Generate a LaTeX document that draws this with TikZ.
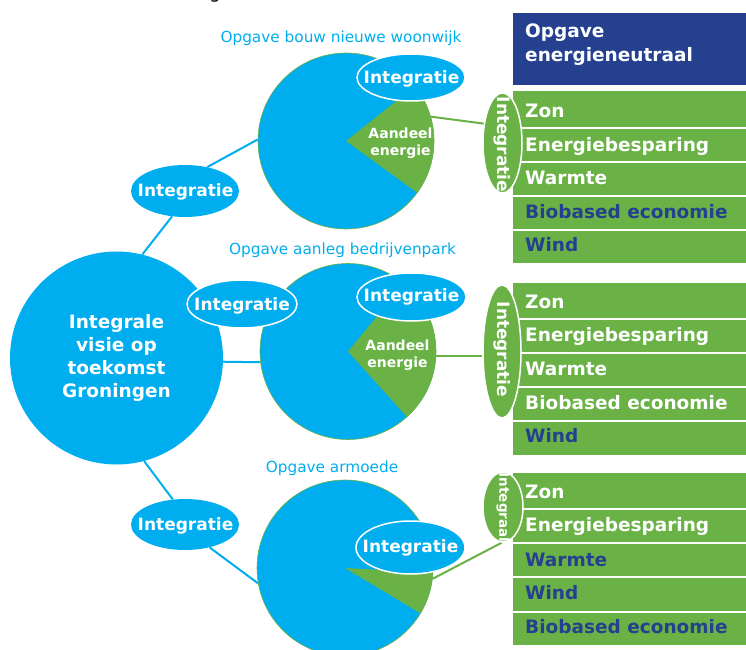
\documentclass[tikz,border=0pt]{standalone}
\usepackage{fontspec}
\setmainfont{DejaVu Sans}
\usetikzlibrary{shapes.geometric,backgrounds}
\definecolor{cblue}{RGB}{0,174,239}
\definecolor{cgreen}{RGB}{106,178,70}
\definecolor{cdark}{RGB}{36,64,143}
\begin{document}
\begin{tikzpicture}[x=1pt,y=1pt,
  bf/.style={font=\fontsize{#1}{#1}\selectfont\bfseries},
  pie/.style={circle,fill=cblue,draw=cgreen,line width=0.6pt,minimum size=176pt,inner sep=0pt},
  slice/.style={fill=cgreen},
  bell/.style={ellipse,fill=cblue,inner sep=0pt},
  wbell/.style={bell,draw=white,line width=1.5pt},
  vell/.style={ellipse,fill=cgreen,draw=white,line width=1.5pt,inner sep=0pt},
  etxt/.style={text=white,bf=17,inner sep=0pt,anchor=base},
  vtxt/.style={text=white,inner sep=0pt,rotate=-90},
  titletxt/.style={text=cblue,font=\fontsize{15.3}{15.3}\selectfont,inner sep=0pt,anchor=base},
  rowbox/.style={rectangle,fill=cgreen,inner sep=0pt,anchor=north west,minimum width=233pt},
  rtxt/.style={bf=18.5,inner sep=0pt,anchor=base west},
  wt/.style={rtxt,text=white},
  dt/.style={rtxt,text=cdark},
  bline/.style={draw=cblue,line width=2pt},
  gline/.style={draw=cgreen,line width=2pt}
]
\useasboundingbox (0,0) rectangle (746,649);

% cropped fragment at the top
\node[font=\fontsize{18}{18}\selectfont,anchor=base,inner sep=0pt] (frag) at (215,650) {g};

% pies
\node[pie] (p1) at (346,508) {};
\fill[slice] (p1.center) -- ++(-36:88) arc[start angle=-36,end angle=38.5,radius=88] -- cycle;
\node[pie] (p2) at (348,297.5) {};
\fill[slice] (p2.center) -- ++(-48:88) arc[start angle=-48,end angle=50.5,radius=88] -- cycle;
\node[pie] (p3) at (345,81) {};
\fill[slice] (p3.center) -- ++(-31:88) arc[start angle=-31,end angle=-3,radius=88] -- cycle;

% titles
\node[titletxt] (t1) at (341,606.7) {Opgave bouw nieuwe woonwijk};
\node[titletxt] (t2) at (342.5,394.7) {Opgave aanleg bedrijvenpark};
\node[titletxt] (t3) at (332,176.7) {Opgave armoede};

% aandeel energie
\node[text=white,font=\fontsize{14}{16.7}\selectfont\bfseries,align=center,inner sep=0pt] (ae1) at (400.5,506) {Aandeel\\energie};
\node[text=white,font=\fontsize{14}{16.7}\selectfont\bfseries,align=center,inner sep=0pt] (ae2) at (397.5,293.6) {Aandeel\\energie};

% main circle
\node[circle,fill=cblue,minimum size=213pt,inner sep=0pt,text=white,align=center,
      font=\fontsize{18.5}{22.8}\selectfont\bfseries] (main) at (116.5,291) {Integrale\\visie op\\toekomst\\Groningen};

% integratie ellipses on pies
\node[wbell,minimum width=108pt,minimum height=47pt] (pe1) at (411,571.5) {};
\node[etxt] at (411.5,565.7) {Integratie};
\node[wbell,minimum width=109pt,minimum height=48pt] (pe2) at (411.5,352) {};
\node[etxt] at (411.5,347.3) {Integratie};
\node[wbell,minimum width=109pt,minimum height=53pt] (pe3) at (410.5,101.5) {};
\node[etxt] at (410.5,96.3) {Integratie};

% left integratie ellipses
\node[bell,minimum width=108pt,minimum height=52pt] (e1) at (185,458) {};
\node[etxt] at (185.5,452.3) {Integratie};
\node[wbell,minimum width=110pt,minimum height=48pt] (em) at (242,345) {};
\node[etxt] at (242,338.3) {Integratie};
\node[bell,minimum width=108pt,minimum height=51pt] (e3) at (185,124.5) {};
\node[etxt] at (185.5,118.3) {Integratie};

% right column: header box
\node[rowbox,fill=cdark,minimum height=72pt] (hb) at (513,636) {};
\node[text=white,font=\fontsize{18.5}{23.5}\selectfont\bfseries,align=left,inner sep=0pt,anchor=west] (ht) at (525,604.5) {Opgave\\energieneutraal};

% stack 1
\node[rowbox,minimum height=36pt] (a1) at (513,558) {};
\node[rowbox,minimum height=32pt] (a2) at (513,520) {};
\node[rowbox,minimum height=32pt] (a3) at (513,486) {};
\node[rowbox,minimum height=32pt] (a4) at (513,452) {};
\node[rowbox,minimum height=32pt] (a5) at (513,418) {};
\node[wt] at (525,531.5) {Zon};
\node[wt] at (525,497.3) {Energiebesparing};
\node[wt] at (525,464) {Warmte};
\node[dt] at (525,430.7) {Biobased economie};
\node[dt] at (525,397.3) {Wind};

% stack 2
\node[rowbox,minimum height=35pt] (b1) at (513,366) {};
\node[rowbox,minimum height=32pt] (b2) at (513,329) {};
\node[rowbox,minimum height=32pt] (b3) at (513,295) {};
\node[rowbox,minimum height=32pt] (b4) at (513,261) {};
\node[rowbox,minimum height=33pt] (b5) at (513,227) {};
\node[wt] at (525,340.7) {Zon};
\node[wt] at (525,308) {Energiebesparing};
\node[wt] at (525,274) {Warmte};
\node[wt] at (525,240) {Biobased economie};
\node[dt] at (525,206.3) {Wind};

% stack 3
\node[rowbox,minimum height=35pt] (c1) at (513,176) {};
\node[rowbox,minimum height=32pt] (c2) at (513,139) {};
\node[rowbox,minimum height=32pt] (c3) at (513,105) {};
\node[rowbox,minimum height=33pt] (c4) at (513,71) {};
\node[rowbox,minimum height=32pt] (c5) at (513,36) {};
\node[wt] at (525,150.7) {Zon};
\node[wt] at (525,117.3) {Energiebesparing};
\node[dt] at (525,83) {Warmte};
\node[dt] at (525,49.7) {Wind};
\node[dt] at (525,15.7) {Biobased economie};

% vertical ellipses
\node[vell,minimum width=39pt,minimum height=100pt] (v1) at (502.5,506) {};
\node[vtxt,bf=17] at (502,504.5) {Integratie};
\node[vell,minimum width=38pt,minimum height=133pt] (v2) at (502,297.5) {};
\node[vtxt,bf=17] at (502,299.5) {Integratie};
\node[vell,minimum width=40pt,minimum height=70pt] (v3) at (503,142) {};
\node[vtxt,bf=13.5] at (503,141.5) {Integraal};

% connectors
\begin{scope}[on background layer]
\draw[bline] (main.76) -- (e1.243);
\draw[bline] (e1.47) -- (p1.179);
\draw[bline] (main.-2) -- (p2.187);
\draw[bline] (main.-75) -- (e3.116);
\draw[bline] (e3.-43) -- (p3.190);
\draw[gline] (p1.16) -- (v1.134);
\draw[gline] (p2.-3) -- (p2.-3 -| v2.west);
\draw[gline] (p3.-7) -- (v3.268);
\end{scope}
\end{tikzpicture}
\end{document}
